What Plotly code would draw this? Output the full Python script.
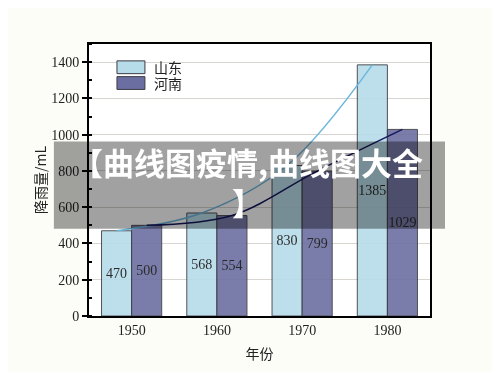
import plotly.graph_objects as go

years = ["1950", "1960", "1970", "1980"]
series_names = ["山东", "河南"]
shandong = [470, 568, 830, 1385]
henan = [500, 554, 799, 1029]
y_ticks = [0, 200, 400, 600, 800, 1000, 1200, 1400]
banner_text = "【曲线图疫情,曲线图大全<br>】"
x_title = "年份"
y_title = "降雨量/mL"

bar_colors = ["#b6dcea", "#6b6ea1"]
line_colors = ["#6cb6dc", "#16185c"]
bw = 30 / 85
xpos = list(range(len(years)))

serif = "Liberation Serif, Times New Roman, Noto Sans CJK SC, serif"
cjk = "Noto Sans CJK SC, Liberation Serif, serif"

fig = go.Figure()
for k, (name, vals) in enumerate(zip(series_names, [shandong, henan])):
    fig.add_trace(go.Bar(
        x=xpos, y=vals, name=name, width=bw, offset=-bw if k == 0 else 0,
        marker=dict(color=bar_colors[k], line=dict(color="#3c3c44", width=1)),
        opacity=0.9,
        text=[str(v) for v in vals], textposition="inside", insidetextanchor="middle",
        constraintext="none", textangle=0,
        textfont=dict(family=serif, size=14, color="#111111"),
        showlegend=False,
    ))
for k, vals in enumerate([shandong, henan]):
    sh = -bw / 2 if k == 0 else bw / 2
    fig.add_trace(go.Scatter(
        x=[i + sh for i in xpos], y=vals, mode="lines",
        line=dict(color=line_colors[k], width=1.5, shape="spline", smoothing=1),
        showlegend=False, hoverinfo="skip",
    ))

shapes = []
annotations = []
# custom legend
for k, name in enumerate(series_names):
    top = 0.938 - k * 0.058
    shapes.append(dict(type="rect", xref="paper", yref="paper",
                       x0=0.082, x1=0.164, y0=top - 0.047, y1=top,
                       fillcolor=bar_colors[k], line=dict(color="#3c3c44", width=1)))
    annotations.append(dict(text=name, xref="paper", yref="paper", x=0.186, y=top - 0.024,
                            xanchor="left", yanchor="middle", showarrow=False,
                            font=dict(family=cjk, size=14, color="#222222")))
# banner
shapes.append(dict(type="rect", xref="paper", yref="paper", layer="above",
                   x0=-0.103, x1=1.044, y0=0.321, y1=0.642,
                   fillcolor="rgba(0,0,0,0.37)", line=dict(width=0)))
annotations.append(dict(text=banner_text, xref="paper", yref="paper", x=0.465, y=0.493,
                        xanchor="center", yanchor="middle", showarrow=False,
                        font=dict(family="Noto Sans CJK SC", size=31, color="white", weight="bold")))

fig.update_layout(
    width=492, height=364,
    margin=dict(l=81, r=70, t=36, b=54),
    paper_bgcolor="#fdfdf8", plot_bgcolor="#ffffff",
    barmode="overlay",
    shapes=shapes, annotations=annotations,
    font=dict(family=serif, size=14, color="#222222"),
)
fig.update_xaxes(
    range=[-0.5, 3.5], tickvals=xpos, ticktext=years, ticks="",
    showgrid=False, zeroline=False, showline=True, linecolor="black", linewidth=2, mirror=True,
    tickfont=dict(family=serif, size=14, color="#222222"),
    title=dict(text=x_title, font=dict(family=cjk, size=14, color="#222222"), standoff=12),
)
fig.update_yaxes(
    range=[0, 1500], tickvals=y_ticks, ticks="outside", ticklen=5, tickcolor="black", tickwidth=1.5,
    minor=dict(dtick=100, ticks="inside", ticklen=3, tickcolor="black", showgrid=False),
    showgrid=True, gridcolor="#d8d4cf", gridwidth=1, zeroline=False,
    showline=True, linecolor="black", linewidth=2, mirror=True,
    tickfont=dict(family=serif, size=14, color="#222222"),
    title=dict(text=y_title, font=dict(family=cjk, size=14, color="#222222"), standoff=1),
)
fig.write_html("out.html")
